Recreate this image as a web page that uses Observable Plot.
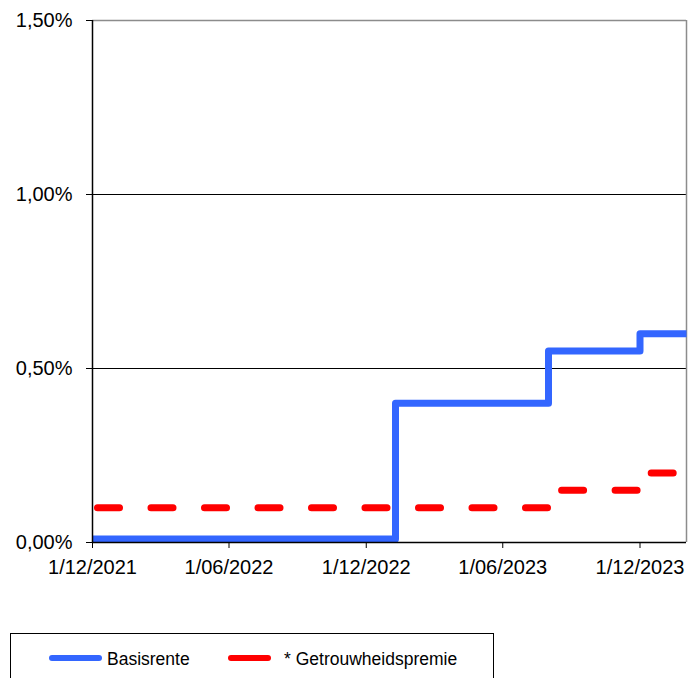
<!DOCTYPE html>
<html>
<head>
<meta charset="utf-8">
<script src="https://cdn.jsdelivr.net/npm/d3@7"></script>
<script src="https://cdn.jsdelivr.net/npm/@observablehq/plot@0.6"></script>
<style>
  body { margin: 0; background: #fff; font-family: "Liberation Sans", Arial, sans-serif; }
  #wrap { position: relative; width: 688px; height: 678px; overflow: hidden; }
  #chart { position: absolute; left: 0; top: 0; }
  #legend { position: absolute; left: 0; top: 620px; }
</style>
</head>
<body>
<div id="wrap">
  <div id="chart"></div>
  <div id="legend"></div>
</div>
<script>
// Data (percent values)
const dates = ["2021-12-01", "2023-01-09", "2023-08-01", "2023-12-01", "2024-02-01"];
const basisrente = [0.01, 0.40, 0.55, 0.60, 0.60];
const getrouwheidspremie = [0.10, 0.10, 0.15, 0.20, 0.20];
const seriesNames = ["Basisrente", "* Getrouwheidspremie"];
const seriesColors = ["#3366FF", "#FF0000"];
const xTicks = ["2021-12-01", "2022-06-01", "2022-12-01", "2023-06-01", "2023-12-01"];
const yTicks = [0, 0.5, 1.0, 1.5];
const xDomain = ["2021-12-01", "2024-02-01"];

const parse = s => new Date(s + "T00:00:00Z");
const rowsBasis = dates.map((d, i) => ({date: parse(d), value: basisrente[i]}));
const rowsPremie = dates.map((d, i) => ({date: parse(d), value: getrouwheidspremie[i]}));
const fmtDate = d => `${d.getUTCDate()}/${String(d.getUTCMonth() + 1).padStart(2, "0")}/${d.getUTCFullYear()}`;
const fmtPct = v => v.toFixed(2).replace(".", ",") + "%";

const chart = Plot.plot({
  width: 688,
  height: 600,
  marginLeft: 92,
  marginRight: 2,
  marginTop: 20,
  marginBottom: 58,
  style: {fontFamily: "'Liberation Sans', Arial, sans-serif", fontSize: "20px", color: "#000", background: "#fff", overflow: "visible"},
  x: {type: "utc", domain: xDomain.map(parse), ticks: xTicks.map(parse), tickFormat: fmtDate, tickSize: 6, tickPadding: 11, label: null},
  y: {domain: [0, 1.5], ticks: yTicks, tickFormat: fmtPct, tickSize: 6, tickPadding: 14, label: null},
  marks: [
    Plot.ruleY([0.5, 1.0], {stroke: "#000", strokeWidth: 1}),
    Plot.ruleY([1.5], {stroke: "#8c8c8c", strokeWidth: 1.5}),
    Plot.ruleX([parse(xDomain[1])], {stroke: "#8c8c8c", strokeWidth: 1.5}),
    Plot.line(rowsPremie, {x: "date", y: "value", curve: "step-after", stroke: seriesColors[1], strokeWidth: 7, strokeDasharray: "22,31.5", strokeLinecap: "round", strokeDashoffset: -5}),
    Plot.line(rowsBasis, {x: "date", y: "value", curve: "step-after", stroke: seriesColors[0], strokeWidth: 7, strokeLinecap: "butt", strokeLinejoin: "round"}),
    Plot.ruleX([parse(xDomain[0])], {stroke: "#000", strokeWidth: 1.5}),
    Plot.ruleY([0], {stroke: "#000", strokeWidth: 1.5})
  ]
});
document.getElementById("chart").appendChild(chart);

// Legend
const ns = "http://www.w3.org/2000/svg";
const lg = document.createElementNS(ns, "svg");
lg.setAttribute("width", 688);
lg.setAttribute("height", 58);
lg.innerHTML = `
  <rect x="10.5" y="13.5" width="483" height="70" fill="#fff" stroke="#000" stroke-width="1"/>
  <line x1="52" y1="38" x2="99" y2="38" stroke="${seriesColors[0]}" stroke-width="6" stroke-linecap="round"/>
  <text x="107" y="45" font-size="17.5" font-family="'Liberation Sans', Arial, sans-serif" fill="#000">${seriesNames[0]}</text>
  <line x1="231" y1="38" x2="268" y2="38" stroke="${seriesColors[1]}" stroke-width="6" stroke-linecap="round"/>
  <text x="284" y="45" font-size="17.5" font-family="'Liberation Sans', Arial, sans-serif" fill="#000">${seriesNames[1]}</text>
`;
document.getElementById("legend").appendChild(lg);
</script>
</body>
</html>
